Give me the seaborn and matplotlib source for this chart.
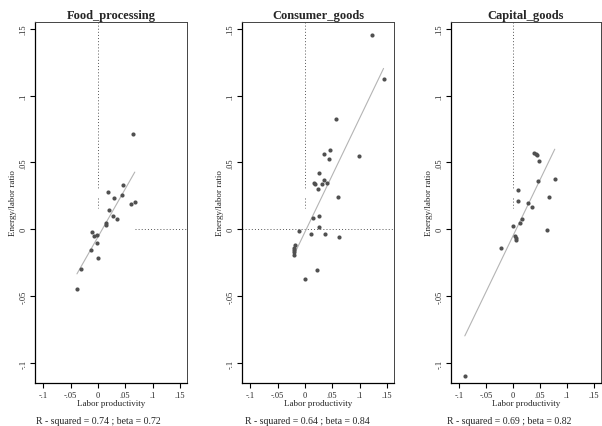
import matplotlib
matplotlib.use("Agg")
import matplotlib.pyplot as plt
import seaborn as sns
import pandas as pd

# ---------------- data ----------------
panels = ["Food_processing", "Consumer_goods", "Capital_goods"]
footnotes = ["R - squared = 0.74 ; beta = 0.72",
             "R - squared = 0.64 ; beta = 0.84",
             "R - squared = 0.69 ; beta = 0.82"]

food_x = [0.0645, 0.0468, 0.0438, 0.0182, 0.0304, 0.0675, 0.0608, 0.0201, 0.0268, 0.0353,
          0.0152, 0.0152, -0.0116, -0.0073, -0.0018, -0.0012, -0.0134, 0.0006, -0.0316, -0.0383]
food_y = [0.0709, 0.0329, 0.0259, 0.0282, 0.0232, 0.0205, 0.0190, 0.0142, 0.0100, 0.0077,
          0.0050, 0.0035, -0.0020, -0.0050, -0.0040, -0.0105, -0.0152, -0.0215, -0.0300, -0.0447]

cons_x = [0.1233, 0.1439, 0.0565, 0.0996, 0.0461, 0.0346, 0.0449, 0.0261, 0.0170, 0.0188,
          0.0346, 0.0316, 0.0407, 0.0243, 0.0601, 0.0261, 0.0140, 0.0261, -0.0115, 0.0121,
          0.0364, 0.0619, -0.0182, -0.0200, -0.0200, -0.0200, -0.0200, 0.0225, 0.0006]
cons_y = [0.1455, 0.1125, 0.0823, 0.0548, 0.0593, 0.0565, 0.0528, 0.0423, 0.0348, 0.0335,
          0.0368, 0.0338, 0.0345, 0.0303, 0.0243, 0.0100, 0.0085, 0.0018, -0.0010, -0.0033,
          -0.0033, -0.0055, -0.0118, -0.0140, -0.0155, -0.0173, -0.0190, -0.0308, -0.0370]

cap_x = [0.0393, 0.0429, 0.0453, 0.0483, 0.0465, 0.0773, 0.0097, 0.0091, 0.0278, 0.0665,
         0.0350, 0.0163, 0.0127, 0.0006, 0.0628, 0.0042, 0.0060, 0.0060, -0.0230, -0.0894]
cap_y = [0.0573, 0.0565, 0.0558, 0.0508, 0.0360, 0.0375, 0.0290, 0.0208, 0.0198, 0.0240,
         0.0163, 0.0073, 0.0043, 0.0023, -0.0005, -0.0053, -0.0065, -0.0078, -0.0138, -0.1095]

xs = [food_x, cons_x, cap_x]
ys = [food_y, cons_y, cap_y]

# reference dotted lines (x=0 vertical pieces, y=0 horizontal extents)
vline_segments = [(0.155, 0.030), (0.023, 0.016)]
hline_extents = [(0.068, 0.163), (-0.115, 0.163), None]

xticks = [-0.1, -0.05, 0, 0.05, 0.1, 0.15]
xticklabels = ["-.1", "-.05", "0", ".05", ".1", ".15"]
yticks = [-0.1, -0.05, 0, 0.05, 0.1, 0.15]
yticklabels = ["-.1", "-.05", "0", ".05", ".1", ".15"]

# ---------------- style ----------------
sns.set_theme(style="white")
plt.rcParams["font.family"] = ["Liberation Serif", "DejaVu Serif"]

fig = plt.figure(figsize=(6.02, 4.27), dpi=100)
lefts = [35 / 602, 242 / 602, 451 / 602]
widths = [152 / 602, 152 / 602, 150 / 602]
foot_x = [36 / 602, 245 / 602, 447 / 602]
bottom = 1 - 384 / 427
height = (384 - 23) / 427

for i in range(3):
    ax = fig.add_axes([lefts[i], bottom, widths[i], height])
    df = pd.DataFrame({"x": xs[i], "y": ys[i]})
    # reference lines
    for (y0, y1) in vline_segments:
        ax.plot([0, 0], [y0, y1], color="#555555", lw=0.7, ls=(0, (1, 2.2)), zorder=1)
    if hline_extents[i] is not None:
        ax.plot(list(hline_extents[i]), [0, 0], color="#555555", lw=0.7,
                ls=(0, (1, 2.2)), zorder=1)
    sns.regplot(data=df, x="x", y="y", ax=ax, ci=None, truncate=True,
                scatter_kws=dict(s=9, color="#505050", linewidths=0, alpha=1, zorder=3),
                line_kws=dict(color="#b4b4b4", lw=0.8, zorder=2))
    ax.set_xlim(-0.115, 0.163)
    ax.set_ylim(-0.115, 0.155)
    ax.set_xticks(xticks)
    ax.set_xticklabels(xticklabels)
    ax.set_yticks(yticks)
    ax.set_yticklabels(yticklabels, rotation=90, va="center")
    ax.tick_params(axis="both", which="major", direction="out", length=3.5,
                   width=0.8, color="black", labelsize=6, pad=2, bottom=True, left=True)
    ax.set_xlabel("Labor productivity", fontsize=6.5, labelpad=0)
    ax.set_ylabel("Energy/labor ratio", fontsize=6.5, labelpad=2)
    ax.set_title(panels[i], fontsize=9, fontweight="bold", pad=3)
    for side in ["top", "right"]:
        ax.spines[side].set_color("#444444")
        ax.spines[side].set_linewidth(0.7)
    for side in ["left", "bottom"]:
        ax.spines[side].set_color("black")
        ax.spines[side].set_linewidth(0.9)
    fig.text(foot_x[i], 1 - 422 / 427, footnotes[i], ha="left", va="center",
             fontsize=7)

fig.savefig("out.png", dpi=100)
